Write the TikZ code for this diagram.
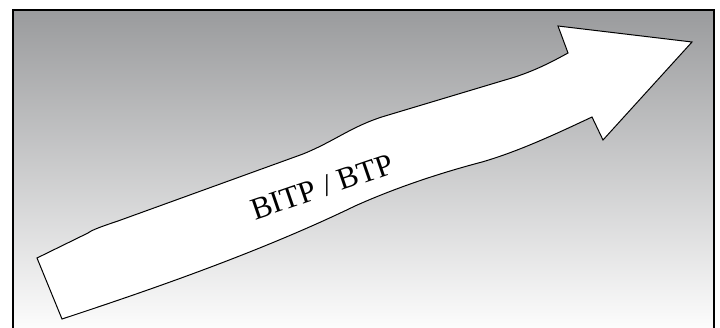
\documentclass[tikz,border=0pt]{standalone}
\usepackage{fontspec}
\setmainfont{Liberation Serif}
\begin{document}
\begin{tikzpicture}[x=1pt,y=-1pt,
  frame/.style={draw=black,line width=1.6pt},
  bigarrow/.style={draw=black,line width=1pt,fill=white,line join=miter},
  label/.style={font=\fontsize{31}{34}\selectfont,rotate=19,inner sep=0pt}]
\useasboundingbox (0,0) rectangle (720,327);
\begin{scope}
\clip (0,0) rectangle (720,327);
\shade[top color={rgb,255:red,154;green,155;blue,157},bottom color={rgb,255:red,252;green,252;blue,252}]
  (13,10) rectangle (714,327);
\draw[frame] (13,340) -- (13,10) -- (714,10) -- (714,340);
\end{scope}
\draw[bigarrow] (37,258) -- (62,319)
 .. controls (150,290) and (260,252) .. (355,206)
 .. controls (395,188) and (440,173) .. (482,162)
 .. controls (520,151) and (560,132) .. (592,117)
 -- (603,140) -- (692,42) -- (558,26) -- (568,53)
 .. controls (548,64) and (530,73) .. (505,80)
 -- (385,116)
 .. controls (352,126) and (335,141) .. (303,154)
 -- (118,221)
 .. controls (100,227) and (92,230) .. (88,233)
 -- cycle;
\node[label] (t) at (322,187) {BITP / BTP};
\end{tikzpicture}
\end{document}
